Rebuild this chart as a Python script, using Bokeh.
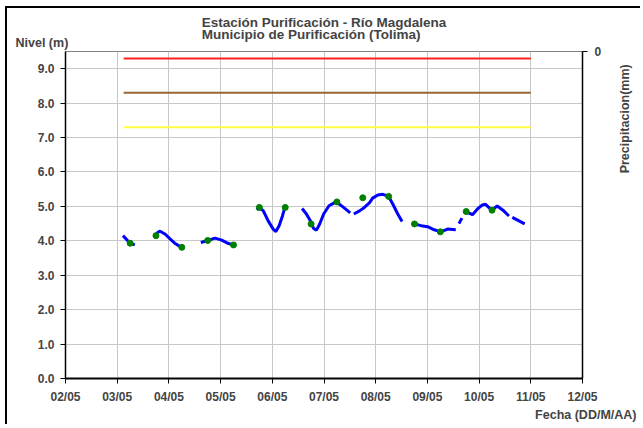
import math
import numpy as np
import pandas as pd
from bokeh.plotting import figure
from bokeh.models import (Range1d, LinearAxis, FixedTicker, DatetimeTickFormatter,
                          Title, NumeralTickFormatter)
from bokeh.embed import file_html
from bokeh.resources import INLINE

# ---------------- data ----------------
title_1 = "Estación Purificación - Río Magdalena"
title_2 = "Municipio de Purificación (Tolima)"
y_label = "Nivel (m)"
x_label = "Fecha (DD/M/AA)"
y2_label = "Precipitacion(mm)"

# continuous level record (m); None marks gaps in the record
level_time = [
    "2012-05-03 02:40", "2012-05-03 06:00", "2012-05-03 08:10", None,
    "2012-05-03 17:50", "2012-05-03 18:45", "2012-05-03 19:55", "2012-05-03 22:20",
    "2012-05-04 00:40", "2012-05-04 02:55", "2012-05-04 05:45", None,
    "2012-05-04 14:50", "2012-05-04 18:00", "2012-05-04 21:25", "2012-05-05 00:30",
    "2012-05-05 03:40", "2012-05-05 06:00", None,
    "2012-05-05 16:45", "2012-05-05 18:00", "2012-05-05 19:50", "2012-05-05 22:05",
    "2012-05-06 00:25", "2012-05-06 01:40", "2012-05-06 03:10", "2012-05-06 04:45",
    "2012-05-06 05:50", None,
    "2012-05-06 13:50", "2012-05-06 15:50", "2012-05-06 17:40", "2012-05-06 19:10",
    "2012-05-06 20:30", "2012-05-06 22:00", "2012-05-06 23:50", "2012-05-07 02:20",
    "2012-05-07 04:55", "2012-05-07 06:25", "2012-05-07 09:05", "2012-05-07 12:10", None,
    "2012-05-07 13:50", "2012-05-07 16:30", "2012-05-07 18:45", "2012-05-07 21:10",
    "2012-05-07 22:35", "2012-05-08 01:00", "2012-05-08 03:20", "2012-05-08 06:00",
    "2012-05-08 07:55", "2012-05-08 10:15", "2012-05-08 12:15", None,
    "2012-05-08 18:00", "2012-05-08 21:05", "2012-05-09 00:05", "2012-05-09 03:10",
    "2012-05-09 06:15", "2012-05-09 09:20", "2012-05-09 13:10", None,
    "2012-05-09 14:40", "2012-05-09 16:00", None,
    "2012-05-09 17:50", "2012-05-09 20:55", "2012-05-09 23:40", "2012-05-10 01:30",
    "2012-05-10 03:00", "2012-05-10 05:50", "2012-05-10 08:25", "2012-05-10 11:05",
    "2012-05-10 13:50", None,
    "2012-05-10 15:25", "2012-05-10 21:10",
]
level_m = [
    4.15, 3.93, 3.88, None,
    4.17, 4.24, 4.28, 4.19,
    4.05, 3.92, 3.81, None,
    3.95, 4.01, 4.08, 4.02,
    3.92, 3.88, None,
    4.90, 4.97, 4.87, 4.58,
    4.34, 4.27, 4.44, 4.73,
    4.97, None,
    4.94, 4.78, 4.58, 4.36,
    4.31, 4.49, 4.78, 5.02,
    5.11, 5.10, 4.97, 4.81, None,
    4.78, 4.87, 4.97, 5.11,
    5.24, 5.33, 5.35, 5.29,
    5.07, 4.78, 4.56, None,
    4.49, 4.44, 4.41, 4.32,
    4.26, 4.34, 4.32, None,
    4.50, 4.66, None,
    4.85, 4.76, 4.95, 5.04,
    5.06, 4.89, 5.01, 4.89,
    4.72, None,
    4.68, 4.49,
]

# manual gauge readings (m)
reading_time = [
    "2012-05-03 06:00", "2012-05-03 18:00", "2012-05-04 06:00", "2012-05-04 18:00",
    "2012-05-05 06:00", "2012-05-05 18:00", "2012-05-06 06:00", "2012-05-06 18:00",
    "2012-05-07 06:00", "2012-05-07 18:00", "2012-05-08 06:00", "2012-05-08 18:00",
    "2012-05-09 06:00", "2012-05-09 18:00", "2012-05-10 06:00",
]
reading_m = [
    3.93, 4.15, 3.81, 4.01,
    3.88, 4.97, 4.97, 4.49,
    5.13, 5.25, 5.29, 4.49,
    4.26, 4.85, 4.89,
]

# alert thresholds (m)
threshold_time = ["2012-05-03 03:00", "2012-05-11 00:00"]
threshold_red = 9.3
threshold_brown = 8.3
threshold_yellow = 7.3

x_ticks = ["2012-05-02", "2012-05-03", "2012-05-04", "2012-05-05", "2012-05-06",
           "2012-05-07", "2012-05-08", "2012-05-09", "2012-05-10", "2012-05-11",
           "2012-05-12"]
y_ticks = [0, 1, 2, 3, 4, 5, 6, 7, 8, 9]

# ---------------- helpers ----------------
def ms(t):
    return pd.Timestamp(t).value / 1e6

lt = []
for t in level_time:
    lt.append(ms(t) if t is not None else lt[-1])
lv = np.array([np.nan if v is None else v for v in level_m], dtype=float)

x_start = ms(x_ticks[0])
x_end = ms(x_ticks[-1])
tick_ms = [ms(t) for t in x_ticks]

FONT = "Arial"

p = figure(width=635, height=418, x_axis_type="datetime",
           x_range=Range1d(x_start, x_end), y_range=Range1d(0, 9.5),
           output_backend="svg", toolbar_location=None,
           min_border_left=58, min_border_right=58, min_border_top=43, min_border_bottom=48)
p.styles = {"border-left": "2px solid black", "border-top": "2px solid black",
            "margin-left": "5px", "margin-top": "6px"}
p.background_fill_color = "white"
p.border_fill_color = "white"
p.outline_line_color = "#808080"
p.outline_line_width = 1
p.title.visible = False

# grids
p.xgrid.ticker = FixedTicker(ticks=tick_ms)
p.ygrid.ticker = FixedTicker(ticks=y_ticks)
p.xgrid.grid_line_color = "#c8c8c8"
p.ygrid.grid_line_color = "#c8c8c8"

def style_axis(ax, lw):
    ax.axis_line_color = "black"
    ax.axis_line_width = lw
    ax.major_tick_line_color = "black"
    ax.major_tick_in = 0
    ax.major_tick_out = 5
    ax.minor_tick_line_color = None
    ax.major_label_text_font = FONT
    ax.major_label_text_font_style = "bold"
    ax.major_label_text_font_size = "12px"

xa = p.xaxis[0]
xa.ticker = FixedTicker(ticks=tick_ms)
xa.formatter = DatetimeTickFormatter(days="%d/%m", months="%d/%m", hours="%d/%m")
style_axis(xa, 2)
xa.major_label_standoff = 6

ya = p.yaxis[0]
ya.ticker = FixedTicker(ticks=y_ticks)
ya.formatter = NumeralTickFormatter(format="0.0")
style_axis(ya, 1.5)
ya.major_label_standoff = 6

# right precipitation axis (inverted, only 0 shown)
p.extra_y_ranges = {"precip": Range1d(100, 0)}
ra = LinearAxis(y_range_name="precip", ticker=FixedTicker(ticks=[0]))
style_axis(ra, 1.5)
ra.major_label_standoff = 7
# label starts at the axis middle; non-breaking padding lifts it towards the top
ra.axis_label = "\u00a0" * 12 + y2_label
ra.axis_label_text_font = FONT
ra.axis_label_text_font_style = "bold"
ra.axis_label_text_font_size = "12.5px"
ra.axis_label_standoff = 21
if "axis_label_orientation" in ra.properties():
    ra.axis_label_orientation = math.pi / 2
p.add_layout(ra, "right")

# titles (stacked above the frame: first added is closest to the frame)
p.add_layout(Title(text=y_label, align="left", offset=-50, standoff=4,
                   text_font=FONT, text_font_style="bold", text_font_size="12.5px"), "above")
p.add_layout(Title(text=title_1 + "\n" + title_2, align="center", standoff=-22,
                   text_line_height=0.82,
                   text_font=FONT, text_font_style="bold", text_font_size="13.5px"), "above")
p.add_layout(Title(text=x_label, align="right", offset=-54, standoff=2,
                   vertical_align="top",
                   text_font=FONT, text_font_style="bold", text_font_size="12.5px"), "below")

# thresholds
tt = [ms(t) for t in threshold_time]
p.line(tt, [threshold_red] * 2, line_color="#FF2020", line_width=2)
p.line(tt, [threshold_brown] * 2, line_color="#996633", line_width=2)
p.line(tt, [threshold_yellow] * 2, line_color="#FFFF40", line_width=2)

# level line and readings
p.line(lt, lv, line_color="#0000FF", line_width=3)
p.scatter([ms(t) for t in reading_time], reading_m, size=6, fill_color="#008000",
          line_color="#008000")

open("out.html", "w").write(file_html(p, INLINE))
